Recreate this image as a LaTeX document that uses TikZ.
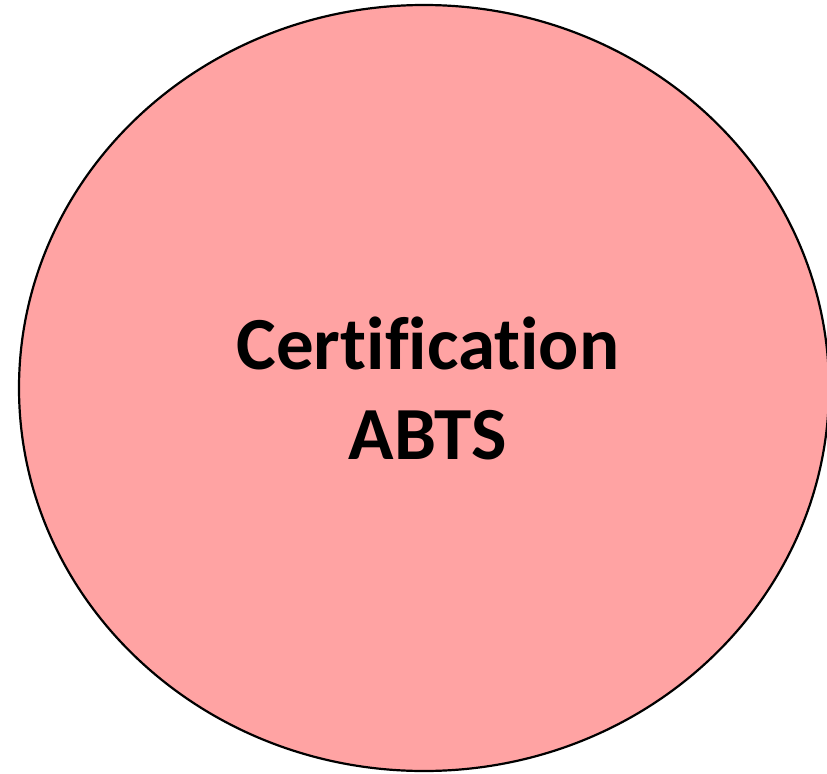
\documentclass[tikz,border=0pt]{standalone}
\usepackage{fontspec}
\setmainfont{Carlito}[Ligatures=CommonOff]
\definecolor{circfill}{HTML}{FFA3A3}
\tikzset{
  bubble/.style={draw=black, line width=2.2bp, fill=circfill},
  label/.style={font=\bfseries\fontsize{75bp}{90bp}\selectfont, align=center, text=black}
}
\begin{document}
\begin{tikzpicture}[x=1bp,y=-1bp]
\useasboundingbox (0,0) rectangle (827,774);
\clip (0,0) rectangle (827,774);
\path[bubble] (424,388) ellipse [x radius=405, y radius=383];
\node[label] (t) at (428,388) {Certification\\ABTS};
\end{tikzpicture}
\end{document}
